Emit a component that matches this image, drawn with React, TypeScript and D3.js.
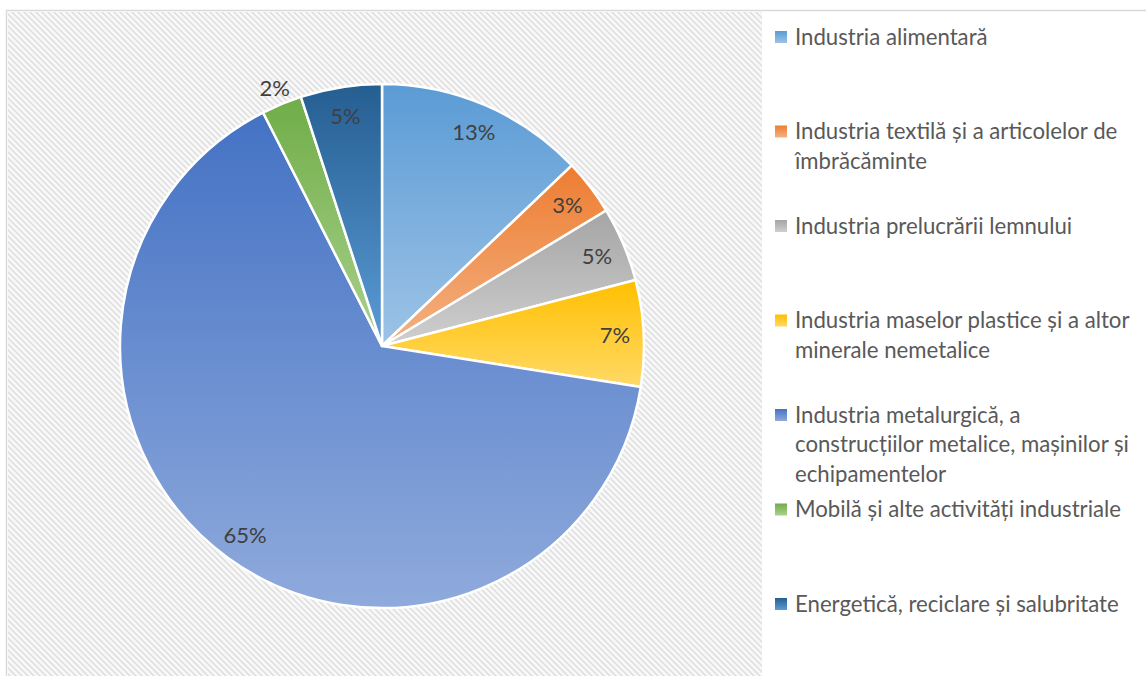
import React from "react";
import * as d3 from "d3";

const categories = [
  "Industria alimentară",
  "Industria textilă și a articolelor de îmbrăcăminte",
  "Industria prelucrării lemnului",
  "Industria maselor plastice și a altor minerale nemetalice",
  "Industria metalurgică, a construcțiilor metalice, mașinilor și echipamentelor",
  "Mobilă și alte activități industriale",
  "Energetică, reciclare și salubritate",
];
const values = [12.9, 3.45, 4.6, 6.55, 65.0, 2.49, 5.01];
const legendLines = [
  ["Industria alimentară"],
  ["Industria textilă și a articolelor de", "îmbrăcăminte"],
  ["Industria prelucrării lemnului"],
  ["Industria maselor plastice și a altor", "minerale nemetalice"],
  ["Industria metalurgică, a", "construcțiilor metalice, mașinilor și", "echipamentelor"],
  ["Mobilă și alte activități industriale"],
  ["Energetică, reciclare și salubritate"],
];
const topColors = ["#5b9bd5", "#ed7d31", "#a5a5a5", "#ffc000", "#4472c4", "#70ad47", "#255e91"];
const bottomColors = ["#9dc3e6", "#f4b183", "#cfcfcf", "#ffd966", "#8faadc", "#a9d18e", "#5b9bd5"];

const W = 1146;
const H = 676;
const cx = 382;
const cy = 346;
const R = 262;
const font = "Lato, 'Open Sans', sans-serif";

export default function App() {
  const pie = d3
    .pie<number>()
    .sort(null)
    .value((d) => d)
    .startAngle(0)
    .endAngle(2 * Math.PI);
  const arcs = pie(values);
  const arc = d3.arc<d3.PieArcDatum<number>>().innerRadius(0).outerRadius(R);
  const total = d3.sum(values);

  return (
    <svg width={W} height={H} style={{ position: "absolute", left: 0, top: 0 }} fontFamily={font}>
      <defs>
        <pattern id="hatch" width="6" height="6" patternUnits="userSpaceOnUse">
          <rect width="6" height="6" fill="#f9f9f9" />
          <path d="M-1,-1 L7,7 M-4,2 L2,8 M4,-2 L10,4" stroke="#e0e0e0" strokeWidth="1.6" />
        </pattern>
        {categories.map((c, i) => (
          <linearGradient key={c} id={`g${i}`} x1="0" y1="0" x2="0" y2="1">
            <stop offset="0" stopColor={topColors[i]} />
            <stop offset="1" stopColor={bottomColors[i]} />
          </linearGradient>
        ))}
      </defs>
      <rect x={0} y={0} width={W} height={H} fill="#fff" />
      <rect x={8} y={12} width={754} height={H - 12} fill="url(#hatch)" />
      <line x1={6} x2={W} y1={10.5} y2={10.5} stroke="#d9d9d9" strokeWidth={1.5} />
      <line x1={6.5} x2={6.5} y1={10} y2={H} stroke="#d9d9d9" strokeWidth={1.5} />

      <g transform={`translate(${cx},${cy})`}>
        {arcs.map((a, i) => (
          <path key={i} d={arc(a) ?? ""} fill={`url(#g${i})`} stroke="#fff" strokeWidth={2.5} strokeLinejoin="round" />
        ))}
        {arcs.map((a, i) => {
          const mid = (a.startAngle + a.endAngle) / 2;
          const pct = (a.value / total) * 100;
          const rr = pct < 2.6 ? R * 1.07 : R * 0.89;
          const x = Math.sin(mid) * rr;
          const y = -Math.cos(mid) * rr;
          return (
            <text key={i} x={x} y={y} textAnchor="middle" dominantBaseline="central" fontSize={22} fill="#404040">
              {`${Math.round(pct)}%`}
            </text>
          );
        })}
      </g>

      <g>
        {legendLines.map((lines, i) => {
          const y0 = 37 + i * 94.5;
          return (
            <g key={i}>
              <rect x={775} y={y0 - 6} width={12} height={12} fill={`url(#g${i})`} />
              {lines.map((l, j) => (
                <text key={j} x={795} y={y0 - 1 + j * 29.5} dominantBaseline="central" fontSize={22.2} fill="#595959">
                  {l}
                </text>
              ))}
            </g>
          );
        })}
      </g>
    </svg>
  );
}
